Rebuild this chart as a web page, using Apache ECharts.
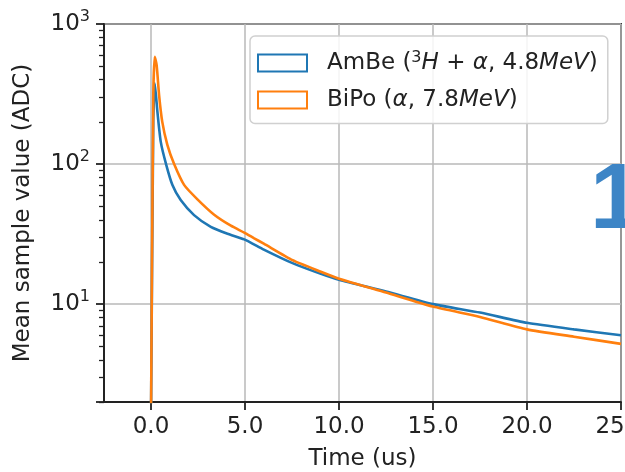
<!DOCTYPE html>
<html>
<head>
<meta charset="utf-8">
<script src="https://cdn.jsdelivr.net/npm/echarts@6/dist/echarts.min.js"></script>
<style>html,body{margin:0;padding:0;background:#fff}#c{width:625px;height:472px}</style>
</head>
<body>
<div id="c"></div>
<script>
// AmBe: time (us) and mean sample value (ADC)
const ambeTime = [0, 0.12, 0.2, 0.34, 0.52, 0.8, 1.14, 1.58, 2.29, 3.18, 4.07, 4.96, 6.0, 7.53, 9.0, 10.0, 12.5, 15.0, 17.5, 20.0, 22.5, 25.0];
const ambeValues = [1.5, 200, 377, 237, 144, 100, 70.8, 55.3, 43.2, 35.6, 31.8, 29.0, 24.5, 19.6, 16.5, 14.9, 12.3, 10.0, 8.7, 7.35, 6.6, 6.0];
// BiPo: time (us) and mean sample value (ADC)
const bipoTime = [0, 0.12, 0.2, 0.3, 0.43, 0.6, 0.87, 1.23, 1.76, 2.47, 3.36, 4.25, 4.96, 5.49, 6.0, 7.53, 9.0, 10.0, 12.5, 15.0, 17.5, 20.0, 22.5, 25.0];
const bipoValues = [1.5, 300, 583, 509, 311, 200, 137, 100, 71, 56, 43.5, 36.3, 32.4, 29.5, 27.0, 20.6, 17.1, 15.2, 12.1, 9.6, 8.1, 6.6, 5.85, 5.2];
// axis ticks
const xTickValues = [0, 5, 10, 15, 20, 25];
const yMinorTicks = [2, 3, 4, 5, 6, 7, 8, 9, 20, 30, 40, 50, 60, 70, 80, 90, 200, 300, 400, 500, 600, 700, 800, 900];
const seriesNames = ['AmBe', 'BiPo'];

const FONT = 'DejaVu Sans';
const FS = 23;
const TXT = '#222';
const blue = '#1f77b4', orange = '#ff7f0e';

const chart = echarts.init(document.getElementById('c'));
const pair = (xs, ys) => xs.map((x, i) => [x, ys[i]]);

chart.setOption({
  animation: false,
  textStyle: { fontFamily: FONT },
  grid: { left: 104, right: 4, top: 24, bottom: 70, outerBoundsMode: 'none', containLabel: false,
    show: true, borderColor: '#222', borderWidth: 1.8, backgroundColor: 'transparent' },
  xAxis: {
    type: 'value', min: -2.5, max: 25,
    name: 'Time (us)', nameLocation: 'middle', nameGap: 46,
    nameTextStyle: { fontSize: FS, color: TXT, fontFamily: FONT },
    axisLine: { show: true, onZero: false, lineStyle: { color: '#222', width: 1.8 } },
    axisTick: { show: true, length: 8, customValues: xTickValues, lineStyle: { color: '#222', width: 1.8 } },
    axisLabel: { customValues: xTickValues, margin: 14, fontSize: FS, color: TXT, fontFamily: FONT,
      formatter: v => v.toFixed(1) },
    splitLine: { show: true, lineStyle: { color: '#b8b8b8', width: 1.5 } }
  },
  yAxis: [{
    type: 'log', logBase: 10, min: 2, max: 1000, position: 'left',
    name: 'Mean sample value (ADC)', nameLocation: 'middle', nameGap: 69,
    nameTextStyle: { fontSize: FS, color: TXT, fontFamily: FONT },
    axisLine: { show: true, onZero: false, lineStyle: { color: '#222', width: 1.8 } },
    axisTick: { show: true, length: 8, lineStyle: { color: '#222', width: 1.8 } },
    axisLabel: {
      margin: 14, color: TXT, fontFamily: FONT,
      formatter: v => {
        const e = Math.round(Math.log10(v));
        if (Math.abs(Math.pow(10, e) - v) > 1e-6 * v) return '';
        return '{b|10}{s|' + e + '}';
      },
      rich: {
        b: { fontSize: FS, color: TXT, fontFamily: FONT, lineHeight: 30 },
        s: { fontSize: 16, color: TXT, fontFamily: FONT, verticalAlign: 'top', lineHeight: 30 }
      }
    },
    splitLine: { show: true, lineStyle: { color: '#b8b8b8', width: 1.5 } }
  }, {
    type: 'value', min: Math.log10(2), max: 3, position: 'left',
    axisLine: { show: false, onZero: false }, axisLabel: { show: false }, splitLine: { show: false },
    axisTick: { show: true, length: 5, customValues: yMinorTicks.map(v => Math.log10(v)), lineStyle: { color: '#222', width: 1.3 } }
  }],
  legend: {
    orient: 'vertical', left: 250, top: 36,
    padding: [14, 10, 12, 7], itemGap: 14,
    itemWidth: 49, itemHeight: 17, icon: 'rect',
    backgroundColor: 'rgba(255,255,255,0.85)', borderColor: '#d0d0d0', borderWidth: 1.5, borderRadius: 5,
    data: [
      { name: 'AmBe', itemStyle: { color: '#ffffff', borderColor: blue, borderWidth: 2 } },
      { name: 'BiPo', itemStyle: { color: '#ffffff', borderColor: orange, borderWidth: 2 } }
    ],
    formatter: name => name === 'AmBe'
      ? '{n|AmBe (}{u|3}{i|H}{n| + }{i|α}{n|, 4.8}{i|MeV}{n|)}'
      : '{n|BiPo (}{i|α}{n|, 7.8}{i|MeV}{n|)}',
    textStyle: {
      padding: [0, 0, 0, 15],
      rich: {
        n: { fontSize: FS, color: TXT, fontFamily: FONT, lineHeight: 26 },
        i: { fontSize: FS, color: TXT, fontFamily: FONT, fontStyle: 'italic', lineHeight: 26 },
        u: { fontSize: 16, color: TXT, fontFamily: FONT, verticalAlign: 'top', lineHeight: 26 }
      }
    }
  },
  series: [
    { name: seriesNames[0], type: 'line', showSymbol: false, symbol: 'none', data: pair(ambeTime, ambeValues),
      smooth: 0.2, lineStyle: { color: blue, width: 2.6 }, itemStyle: { color: blue }, clip: true, z: 3 },
    { name: seriesNames[1], type: 'line', showSymbol: false, symbol: 'none', data: pair(bipoTime, bipoValues),
      smooth: 0.2, lineStyle: { color: orange, width: 2.6 }, itemStyle: { color: orange }, clip: true, z: 4 }
  ],
  graphic: [{
    type: 'text', left: 590, top: 156, z: 100,
    style: { text: '1', font: 'bold 93px "Liberation Sans"', fill: '#3d85c6' }
  }]
});
</script>
</body>
</html>
